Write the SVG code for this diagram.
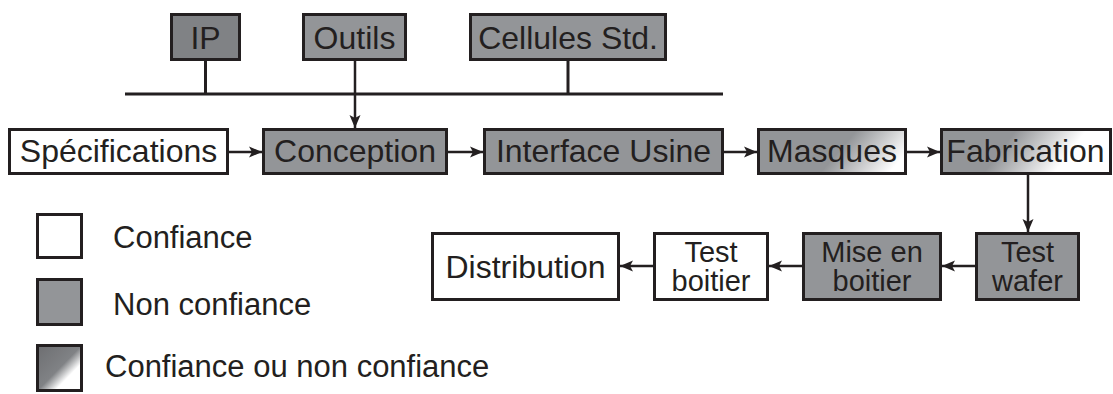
<svg xmlns="http://www.w3.org/2000/svg" width="1113" height="394" viewBox="0 0 1113 394">
<style>
.box{stroke:#231f20;stroke-width:3}
.w{fill:#ffffff}
.g{fill:#939598}
.d{fill:#808285}
text{font-family:"Liberation Sans",Arial,sans-serif;font-size:32px;fill:#231f20;text-anchor:middle}
.two{font-size:29px}
.leg{font-size:31px;text-anchor:start}
.con{stroke:#231f20;stroke-width:2.5;fill:none}
.bus{stroke:#231f20;stroke-width:3;fill:none}
</style>
<defs>
<marker id="ah" markerUnits="userSpaceOnUse" viewBox="-14 -7 15 14" refX="0" refY="0" markerWidth="15" markerHeight="14" orient="auto">
<path d="M0,0 L-13,-5.5 L-10,0 L-13,5.5 Z" fill="#231f20"/>
</marker>
<linearGradient id="gm" gradientUnits="userSpaceOnUse" x1="850" y1="138" x2="890" y2="172">
<stop offset="0" stop-color="#939598"/><stop offset="1" stop-color="#ffffff"/>
</linearGradient>
<linearGradient id="gf" gradientUnits="userSpaceOnUse" x1="1010" y1="138" x2="1055" y2="172">
<stop offset="0" stop-color="#939598"/><stop offset="1" stop-color="#ffffff"/>
</linearGradient>
<linearGradient id="gl" x1="0" y1="0" x2="1" y2="1">
<stop offset="0" stop-color="#6d6e71"/><stop offset="0.5" stop-color="#808285"/><stop offset="0.7" stop-color="#ffffff"/><stop offset="1" stop-color="#ffffff"/>
</linearGradient>
</defs>
<g id="connectors">
<line class="bus" x1="125" y1="94" x2="723" y2="94"/>
<line class="bus" x1="205.5" y1="61" x2="205.5" y2="94"/>
<line class="bus" x1="568" y1="61" x2="568" y2="94"/>
<line class="con" x1="355" y1="61" x2="355" y2="128" marker-end="url(#ah)"/>
<line class="con" x1="229" y1="152" x2="262" y2="152" marker-end="url(#ah)"/>
<line class="con" x1="448" y1="152" x2="483" y2="152" marker-end="url(#ah)"/>
<line class="con" x1="724" y1="152" x2="757" y2="152" marker-end="url(#ah)"/>
<line class="con" x1="907" y1="152" x2="940" y2="152" marker-end="url(#ah)"/>
<line class="con" x1="1028" y1="175" x2="1028" y2="232" marker-end="url(#ah)"/>
<line class="con" x1="975" y1="266" x2="942" y2="266" marker-end="url(#ah)"/>
<line class="con" x1="802" y1="266" x2="769" y2="266" marker-end="url(#ah)"/>
<line class="con" x1="653" y1="266" x2="620" y2="266" marker-end="url(#ah)"/>
</g>
<g id="ip"><rect class="box d" x="171.5" y="14.5" width="68" height="45"/><text x="205.5" y="48.5">IP</text></g>
<g id="outils"><rect class="box g" x="303.5" y="14.5" width="102" height="45"/><text x="354.5" y="48.5">Outils</text></g>
<g id="cellules"><rect class="box g" x="470.5" y="14.5" width="195" height="45"/><text x="568" y="48.5">Cellules Std.</text></g>
<g id="specifications"><rect class="box w" x="9.5" y="129.5" width="218" height="44"/><text x="118.5" y="161.5">Spécifications</text></g>
<g id="conception"><rect class="box g" x="263.5" y="129.5" width="183" height="44"/><text x="355" y="161.5">Conception</text></g>
<g id="interface"><rect class="box g" x="484.5" y="129.5" width="238" height="44"/><text x="603.5" y="161.5">Interface Usine</text></g>
<g id="masques"><rect class="box" fill="url(#gm)" x="758.5" y="129.5" width="147" height="44"/><text x="832" y="161.5">Masques</text></g>
<g id="fabrication"><rect class="box" fill="url(#gf)" x="941.5" y="129.5" width="169" height="44"/><text x="1025.5" y="161.5">Fabrication</text></g>
<g id="testwafer"><rect class="box g" x="976.5" y="233.5" width="102" height="66"/><text class="two" x="1027.5" y="261.5">Test</text><text class="two" x="1027.5" y="290.5">wafer</text></g>
<g id="miseenboitier"><rect class="box g" x="803.5" y="233.5" width="137" height="66"/><text class="two" x="872" y="261.5">Mise en</text><text class="two" x="872" y="290.5">boitier</text></g>
<g id="testboitier"><rect class="box w" x="654.5" y="233.5" width="113" height="66"/><text class="two" x="711" y="261.5">Test</text><text class="two" x="711" y="290.5">boitier</text></g>
<g id="distribution"><rect class="box w" x="432.5" y="233.5" width="186" height="66"/><text x="525.5" y="277.5">Distribution</text></g>
<g id="legend">
<rect class="box w" x="37.5" y="214.5" width="44" height="43"/><text class="leg" x="113" y="248">Confiance</text>
<rect class="box g" x="37.5" y="279.5" width="44" height="45"/><text class="leg" x="113" y="315">Non confiance</text>
<rect class="box" fill="url(#gl)" x="37.5" y="345.5" width="44" height="45"/><text class="leg" x="105" y="377">Confiance ou non confiance</text>
</g>
</svg>
